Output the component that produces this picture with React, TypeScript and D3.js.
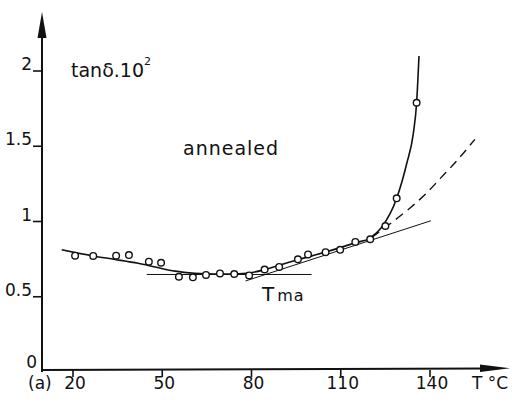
import React from "react";
import * as d3 from "d3";

// Measured loss tangent (x100) of the annealed sample vs temperature
const temps = [20.7, 26.8, 34.5, 38.8, 45.5, 49.6, 55.6, 60.3, 64.7, 69.4, 74.2, 79.2, 84.4, 89.3, 95.6, 99.0, 104.9, 109.8, 114.9, 119.9, 125.0, 128.8, 135.5];
const tanDelta = [0.773, 0.771, 0.773, 0.777, 0.733, 0.726, 0.633, 0.629, 0.645, 0.655, 0.651, 0.642, 0.681, 0.698, 0.749, 0.781, 0.796, 0.812, 0.864, 0.882, 0.97, 1.154, 1.789];

// Hand-drawn fitted curve through the measurements
const fitT = [16.2, 26.8, 34.1, 41.9, 47.6, 54.3, 61.0, 67.7, 73.0, 78.4, 84.0, 89.6, 95.2, 105.3, 114.8, 119.8, 123.7, 128.8, 132.2, 134.4, 135.5, 136.3];
const fitV = [0.812, 0.771, 0.748, 0.722, 0.698, 0.67, 0.656, 0.651, 0.651, 0.656, 0.678, 0.711, 0.744, 0.799, 0.858, 0.89, 0.96, 1.154, 1.387, 1.586, 1.789, 2.1];

// Extrapolated (dashed) continuation
const dashT = [120.5, 126.6, 133.3, 138.9, 143.4, 148.4, 155.1];
const dashV = [0.895, 0.985, 1.09, 1.19, 1.285, 1.39, 1.546];

// Tangent construction lines
const flatT = [44.8, 100.2];
const flatV = [0.648, 0.648];
const slopeT = [78.0, 140.3];
const slopeV = [0.605, 1.005];

const xTicks = [20, 50, 80, 110, 140];
const yTicks = [0, 0.5, 1, 1.5, 2];
const yTickLabels = ["0", "0.5", "1", "1.5", "2"];

const W = 512;
const H = 403;
const FONT = "DejaVu Sans, sans-serif";
const INK = "#111";

export default function App() {
  const x = d3.scaleLinear().domain([20, 140]).range([73, 430]);
  const y = d3.scaleLinear().domain([0, 2]).range([372, 71]);

  const axisX = 42;
  const axisY = 370;

  const line = d3
    .line<[number, number]>()
    .x((d) => x(d[0]))
    .y((d) => y(d[1]))
    .curve(d3.curveMonotoneX);
  const straight = d3
    .line<[number, number]>()
    .x((d) => x(d[0]))
    .y((d) => y(d[1]));

  const zip = (a: number[], b: number[]) => a.map((v, i) => [v, b[i]] as [number, number]);

  return (
    <svg
      width={W}
      height={H}
      style={{ position: "absolute", left: 0, top: 0, background: "#fff" }}
      fontFamily={FONT}
    >
      {/* axes */}
      <line x1={axisX} y1={372} x2={axisX} y2={30} stroke={INK} strokeWidth={2} />
      <path d={`M${axisX},12 L${axisX - 4.5},38 L${axisX + 4.5},38 Z`} fill={INK} />
      <line x1={axisX - 1} y1={axisY} x2={485} y2={368.5} stroke={INK} strokeWidth={2} />
      <path d={`M510,368.3 L480,364.5 L480,372 Z`} fill={INK} />

      {yTicks.slice(1).map((t) => (
        <line key={"yt" + t} x1={33} x2={axisX} y1={y(t)} y2={y(t)} stroke={INK} strokeWidth={1.6} />
      ))}
      {yTicks.map((t, i) => (
        <text
          key={"yl" + t}
          x={t === 0 ? 37 : 32}
          y={t === 0 ? 368 : y(t) - 1}
          textAnchor="end"
          fontSize={17}
          fill={INK}
        >
          {yTickLabels[i]}
        </text>
      ))}

      {xTicks.map((t) => (
        <line key={"xt" + t} x1={x(t)} x2={x(t)} y1={axisY} y2={377} stroke={INK} strokeWidth={1.6} />
      ))}
      {xTicks.map((t) => (
        <text key={"xl" + t} x={x(t) + 2} y={389} textAnchor="middle" fontSize={17} fill={INK}>
          {t}
        </text>
      ))}
      <text x={28} y={389} fontSize={17} fill={INK}>
        (a)
      </text>
      <text x={472} y={389} fontSize={17} fill={INK}>
        T °C
      </text>

      {/* axis title and annotations */}
      <text x={71} y={77} fontSize={19} fill={INK}>
        tanδ.10
        <tspan fontSize={11} dy={-12}>
          2
        </tspan>
      </text>
      <text x={183} y={155} fontSize={19} letterSpacing={1} fill={INK}>
        annealed
      </text>
      <text x={262} y={301} fill={INK}>
        <tspan fontSize={20}>T</tspan>
        <tspan fontSize={16} dx={3} letterSpacing={1}>
          ma
        </tspan>
      </text>

      {/* construction lines */}
      <path d={straight(zip(flatT, flatV)) || ""} fill="none" stroke={INK} strokeWidth={1} />
      <path d={straight(zip(slopeT, slopeV)) || ""} fill="none" stroke={INK} strokeWidth={1} />
      <path
        d={line(zip(dashT, dashV)) || ""}
        fill="none"
        stroke={INK}
        strokeWidth={1.4}
        strokeDasharray="9 6"
      />

      {/* fitted curve */}
      <path d={line(zip(fitT, fitV)) || ""} fill="none" stroke={INK} strokeWidth={1.6} />

      {/* measurements */}
      {temps.map((t, i) => (
        <circle
          key={"p" + i}
          cx={x(t)}
          cy={y(tanDelta[i])}
          r={3.3}
          fill="#fff"
          stroke={INK}
          strokeWidth={1.4}
        />
      ))}
    </svg>
  );
}
